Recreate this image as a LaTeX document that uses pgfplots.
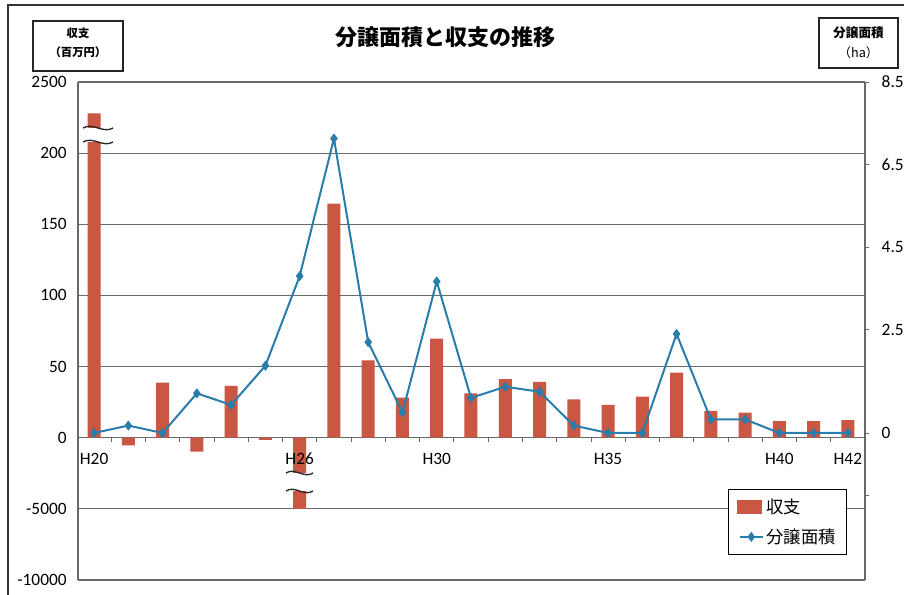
\documentclass[border=0pt]{standalone}
\usepackage{pgfplots}
\pgfplotsset{compat=1.18}
\usepackage{fontspec}
\setmainfont{Carlito}
\newfontfamily\cjk{Noto Sans CJK JP}
\definecolor{barred}{RGB}{202,86,68}
\definecolor{lineblue}{RGB}{40,125,170}
\definecolor{gridgray}{RGB}{105,105,105}
\begin{document}
\begin{tikzpicture}[x=0.75pt,y=0.75pt]
\useasboundingbox (0,0) rectangle (904,594);
\fill[white] (0,0) rectangle (904,594);
\draw[black!80, line width=1pt] (8,-20) rectangle (930,589);
\begin{axis}[
  at={(58.5pt,10.5pt)}, anchor=south west,
  scale only axis, width=590.25pt, height=373.5pt,
  xmin=-0.47, xmax=22.5, ymin=-100, ymax=250,
  axis x line*=middle, axis y line*=left,
  axis line style={gridgray, line width=0.8pt},
  xtick={0,6,10,15,20,22},
  xticklabels={},
  minor xtick={-0.5,0.5,1.5,2.5,3.5,4.5,5.5,6.5,7.5,8.5,9.5,10.5,11.5,12.5,13.5,14.5,15.5,16.5,17.5,18.5,19.5,20.5,21.5},
  major tick length=0pt, minor tick length=3pt,
  tick align=outside,
  minor tick style={gridgray, line width=0.6pt},
  ytick={-100,-50,0,50,100,150,200,250},
  yticklabels={-10000,-5000,0,50,100,150,200,2500},
  ytick style={draw=none},
  ymajorgrids, grid style={gridgray, line width=0.8pt},
  /pgf/number format/assume math mode=true,
  tick label style={font=\fontsize{13}{15}\selectfont},
  yticklabel style={xshift=-5pt},
  clip=false,
]
\addplot[ybar, bar width=9.75pt, draw=none, fill=barred]
coordinates {(0,228) (1,-5.3) (2,38.7) (3,-9.8) (4,36.4) (5,-1.6) (6,-50) (7,164.6) (8,54.4) (9,28.1) (10,69.6) (11,31.2) (12,41.1) (13,39.2) (14,27.0) (15,23.0) (16,28.8) (17,45.7) (18,18.8) (19,17.6) (20,11.7) (21,11.7) (22,12.4)};
\end{axis}
% axis break marks
\fill[white] (86,452) rectangle (103,466);
\draw[black!85, line width=1pt] (83,466) .. controls (93,472) and (103,460) .. (113,466);
\draw[black!85, line width=1pt] (83,452) .. controls (93,458) and (103,446) .. (113,452);
\fill[white] (293,103) rectangle (309,121);
\draw[black!85, line width=1pt] (286,121) .. controls (295,127) and (304,115) .. (313,121);
\draw[black!85, line width=1pt] (286,103) .. controls (295,109) and (304,97) .. (313,103);
% x tick labels on top of bars
\begin{axis}[
  at={(58.5pt,10.5pt)}, anchor=south west,
  scale only axis, width=590.25pt, height=373.5pt,
  xmin=-0.47, xmax=22.5, ymin=-100, ymax=250,
  axis x line*=middle, axis y line=none,
  axis line style={draw=none},
  xtick={0,6,10,15,20,22},
  xticklabels={H20,H26,H30,H35,H40,H42},
  major tick length=0pt,
  tick label style={font=\fontsize{13}{15}\selectfont},
  xticklabel style={yshift=-8pt},
]
\end{axis}
\begin{axis}[
  at={(58.5pt,10.5pt)}, anchor=south west,
  scale only axis, width=590.25pt, height=373.5pt,
  xmin=-0.47, xmax=22.5, ymin=-3.56, ymax=8.5,
  axis x line=none, axis y line*=right,
  axis line style={gridgray, line width=0.8pt},
  ytick={-1.5,0,2.5,4.5,6.5,8.5},
  yticklabels={,0,2.5,4.5,6.5,8.5},
  major tick length=3pt, tick align=outside,
  ytick style={gridgray, line width=0.6pt},
  /pgf/number format/assume math mode=true,
  tick label style={font=\fontsize{13}{15}\selectfont},
  yticklabel style={xshift=6pt},
  legend style={at={(0.977,0.183)}, anchor=north east, draw=black, line width=0.8pt,
    font=\cjk\fontsize{13}{15}\selectfont, row sep=6pt, inner xsep=6pt, inner ysep=5pt},
  legend cell align=left,
]
\addlegendimage{area legend, fill=barred,
  legend image code/.code={\fill[barred] (-2pt,-4.5pt) rectangle (16pt,4.5pt);}}
\addlegendentry{収支}
\addplot[lineblue, line width=1.5pt, mark=diamond*, mark size=2.6pt, mark options={fill=lineblue}]
coordinates {(0,0) (1,0.18) (2,0) (3,0.96) (4,0.68) (5,1.63) (6,3.80) (7,7.13) (8,2.20) (9,0.50) (10,3.67) (11,0.85) (12,1.12) (13,1.00) (14,0.18) (15,0) (16,0) (17,2.40) (18,0.33) (19,0.33) (20,0) (21,0) (22,0)};
\addlegendentry{分譲面積}
\end{axis}
% title
\node[font=\cjk\bfseries\fontsize{16.5}{18}\selectfont] at (445,557) {分譲面積と収支の推移};
% unit boxes
\draw[black!85, line width=0.9pt] (33,523) rectangle (123,573);
\node[font=\cjk\bfseries\fontsize{8.5}{10}\selectfont] at (78,561) {収支};
\node[font=\cjk\bfseries\fontsize{8.5}{10}\selectfont] at (78,542) {（百万円）};
\draw[black!85, line width=0.9pt] (819,526) rectangle (898,576);
\node[font=\cjk\bfseries\fontsize{9.5}{11}\selectfont] at (858.5,561) {分譲面積};
\node[font=\cjk\fontsize{9.5}{11}\selectfont] at (858.5,541) {（ha）};
\end{tikzpicture}
\end{document}
